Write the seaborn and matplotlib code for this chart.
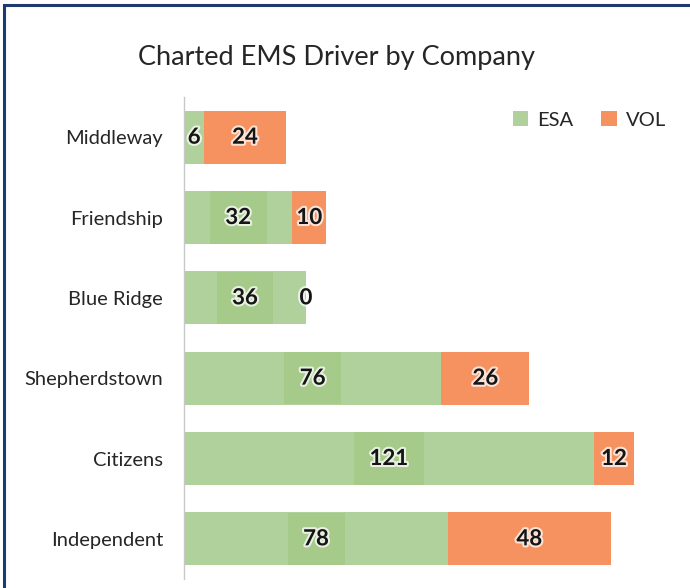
import matplotlib
matplotlib.use("Agg")
import matplotlib.pyplot as plt
import matplotlib.patheffects as pe
from matplotlib.patches import Rectangle, Patch
import seaborn as sns
import pandas as pd

companies = ["Middleway", "Friendship", "Blue Ridge", "Shepherdstown", "Citizens", "Independent"]
esa = [6, 32, 36, 76, 121, 78]
vol = [24, 10, 0, 26, 12, 48]

GREEN = "#B0D09C"
GREEN_DARK = "#A6CA8A"
ORANGE = "#F5925F"

sns.set_theme(style="white")
plt.rcParams["font.family"] = ["Lato", "DejaVu Sans"]

df = pd.DataFrame({"company": companies, "ESA": esa, "VOL": vol})
df["total"] = df["ESA"] + df["VOL"]

fig = plt.figure(figsize=(6.9, 5.88), dpi=100)
ax = fig.add_axes([184 / 690, 1 - 579 / 588, 474 / 690, 482 / 588])

# Stacked bars: totals in orange, ESA drawn on top in green
sns.barplot(data=df, y="company", x="total", color=ORANGE, saturation=1,
            width=0.66, orient="h", ax=ax, linewidth=0)
sns.barplot(data=df, y="company", x="ESA", color=GREEN, saturation=1,
            width=0.66, orient="h", ax=ax, linewidth=0)

ax.set_xlim(0, 140)
ax.set_ylim(5.5, -0.5)
ax.set_xlabel("")
ax.set_ylabel("")
ax.set_xticks([])
ax.tick_params(axis="y", length=0, pad=15, labelsize=14.5, labelcolor="#262626")
for s in ["top", "right", "bottom"]:
    ax.spines[s].set_visible(False)
ax.spines["left"].set_color("#C8C8C8")
ax.spines["left"].set_linewidth(1.0)

glow = [pe.withStroke(linewidth=3, foreground="white", alpha=0.75)]
for i, (e, v) in enumerate(zip(esa, vol)):
    kw = dict(ha="center", va="center", fontsize=16, fontweight="bold",
              color="#151515", path_effects=glow)
    if e >= 20:
        kw["bbox"] = dict(boxstyle="square,pad=0.7", fc=GREEN_DARK, ec="none")
    ax.text(e / 2, i, str(e), **kw)
    ax.text(e + v / 2, i, str(v), ha="center", va="center", fontsize=16,
            fontweight="bold", color="#151515", path_effects=glow)

fig.text(336 / 690, 1 - 58 / 588, "Charted EMS Driver by Company",
         ha="center", va="center", fontsize=19.5, color="#262626")

handles = [Patch(facecolor=GREEN, edgecolor="none", label="ESA"),
           Patch(facecolor=ORANGE, edgecolor="none", label="VOL")]
fig.legend(handles=handles, loc="center right", bbox_to_anchor=(684 / 690, 1 - 120 / 588),
           ncol=2, frameon=False, fontsize=14.5, handlelength=0.75, handleheight=0.75,
           handletextpad=0.45, columnspacing=1.4, labelcolor="#262626")

# Page frame
fig.patches.append(Rectangle((4 / 690, -0.05), 1.1, 1.05 - 5 / 588, transform=fig.transFigure,
                             fill=False, edgecolor="#1F3A6E", linewidth=2.2, clip_on=False))

fig.savefig("out.png", dpi=100)
